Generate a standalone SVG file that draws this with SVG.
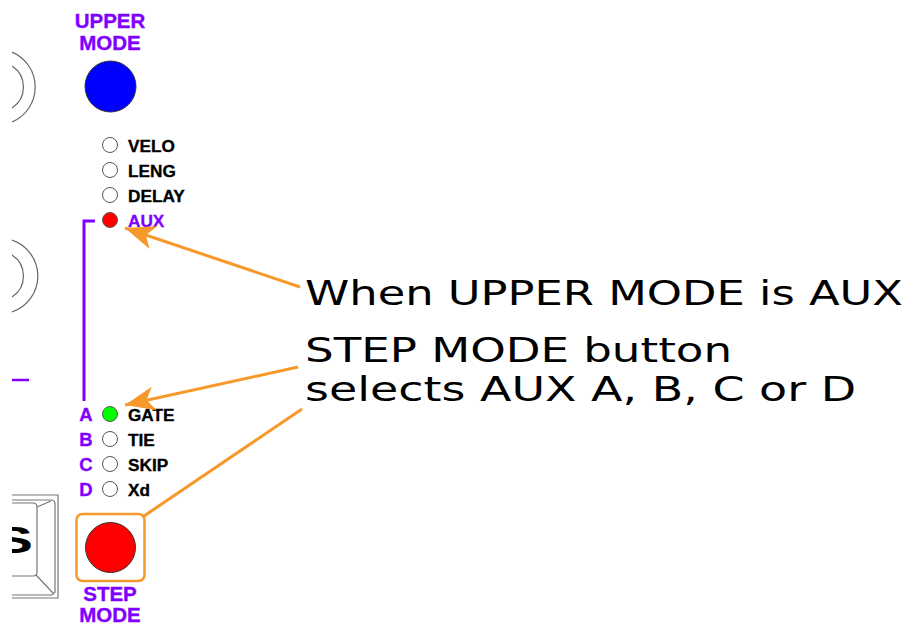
<svg xmlns="http://www.w3.org/2000/svg" width="908" height="625" viewBox="0 0 908 625">
  <style>
    .lbl { font-family: "Liberation Sans", Arial, sans-serif; font-weight: bold; font-size: 17.2px; fill: #000; stroke: #000; stroke-width: 0.35px; }
    .plbl { font-family: "Liberation Sans", Arial, sans-serif; font-weight: bold; fill: #8000FF; stroke: #8000FF; stroke-width: 0.35px; }
    .big { font-family: "DejaVu Sans", "Liberation Sans", sans-serif; font-size: 33px; fill: #000; }
    .led { stroke: #555; stroke-width: 1; }
    .arc { fill: none; stroke: #666; stroke-width: 1.2; }
    .conn { fill: none; stroke: #F7982A; stroke-width: 3; }
    .key { fill: none; stroke: #777; stroke-width: 1.2; }
  </style>
  <defs>
    <marker id="ah" markerUnits="userSpaceOnUse" markerWidth="32" markerHeight="28" viewBox="0 -14 32 28" refX="30" refY="0" orient="auto">
      <path d="M30,0 L0,-12 L8,0 L0,12 Z" fill="#F7982A"/>
    </marker>
    <clipPath id="leftclip"><rect x="12" y="0" width="900" height="625"/></clipPath>
  </defs>
  <rect width="908" height="625" fill="#fff"/>

  <g id="panel-left" clip-path="url(#leftclip)">
    <path class="arc" d="M12,52 A38,38 0 0 1 12,122"/>
    <path class="arc" d="M12,66 A25,25 0 0 1 12,108"/>
    <path class="arc" d="M12,240 A38,38 0 0 1 12,312"/>
    <path class="arc" d="M12,255 A25,25 0 0 1 12,297"/>
    <line x1="12" y1="380" x2="29" y2="380" stroke="#8000FF" stroke-width="2.5"/>
    <g id="key">
      <path class="key" d="M12,495 H58 V598 H12"/>
      <path class="key" d="M12,500 H51 Q55,500 55,504 V592 L52,595 H12"/>
      <path class="key" d="M12,503 H33 Q37,503 37,507 V572 Q37,576 33,576 H12"/>
      <path class="key" d="M37,507 L51,501"/>
      <path class="key" d="M36,575 L53,593"/>
      <text transform="translate(33,553) scale(1.6,1)" text-anchor="end" style="font-family:'Liberation Sans',Arial,sans-serif;font-weight:bold;font-size:37px;fill:#000">S</text>
    </g>
  </g>

  <g id="upper-mode">
    <text class="plbl" x="110" y="28" text-anchor="middle" font-size="20.5">UPPER</text>
    <text class="plbl" x="110" y="50" text-anchor="middle" font-size="20.5">MODE</text>
    <circle cx="110.5" cy="86.5" r="25.5" fill="#0000FF" stroke="#333" stroke-width="1"/>
  </g>

  <g id="upper-leds">
    <circle class="led" cx="110" cy="145" r="7.5" fill="#fff"/>
    <text class="lbl" x="128" y="152">VELO</text>
    <circle class="led" cx="110" cy="170" r="7.5" fill="#fff"/>
    <text class="lbl" x="128" y="177">LENG</text>
    <circle class="led" cx="110" cy="195" r="7.5" fill="#fff"/>
    <text class="lbl" x="128" y="202">DELAY</text>
  </g>
  <g id="aux-led">
    <circle class="led" cx="110" cy="220" r="7.5" fill="#FF0000"/>
    <text class="plbl" x="128" y="227" font-size="17.2">AUX</text>
  </g>

  <g id="bracket">
    <path d="M95,221 H84 V401" fill="none" stroke="#8000FF" stroke-width="3"/>
  </g>

  <g id="step-leds">
    <text class="plbl" x="86" y="421" text-anchor="middle" font-size="18.5">A</text>
    <circle class="led" cx="110" cy="414" r="7.5" fill="#00FF00"/>
    <text class="lbl" x="128" y="421">GATE</text>
    <text class="plbl" x="86" y="446" text-anchor="middle" font-size="18.5">B</text>
    <circle class="led" cx="110" cy="439" r="7.5" fill="#fff"/>
    <text class="lbl" x="128" y="446">TIE</text>
    <text class="plbl" x="86" y="471" text-anchor="middle" font-size="18.5">C</text>
    <circle class="led" cx="110" cy="464" r="7.5" fill="#fff"/>
    <text class="lbl" x="128" y="471">SKIP</text>
    <text class="plbl" x="86" y="496" text-anchor="middle" font-size="18.5">D</text>
    <circle class="led" cx="110" cy="489" r="7.5" fill="#fff"/>
    <text class="lbl" x="128" y="496">Xd</text>
  </g>

  <g id="step-mode">
    <rect x="76.5" y="514" width="68" height="67" rx="6" fill="none" stroke="#F7982A" stroke-width="2.5"/>
    <circle cx="110.5" cy="547.5" r="25" fill="#FF0000" stroke="#333" stroke-width="1"/>
    <text class="plbl" x="110" y="601" text-anchor="middle" font-size="20.5">STEP</text>
    <text class="plbl" x="110" y="622" text-anchor="middle" font-size="20.5">MODE</text>
  </g>

  <g id="notes">
    <text class="big" x="305" y="305" textLength="598" lengthAdjust="spacingAndGlyphs">When UPPER MODE is AUX</text>
    <text class="big" x="305" y="362" textLength="427" lengthAdjust="spacingAndGlyphs">STEP MODE button</text>
    <text class="big" x="305" y="401" textLength="551" lengthAdjust="spacingAndGlyphs">selects AUX A, B, C or D</text>
  </g>

  <g id="connectors">
    <line class="conn" x1="300" y1="287" x2="125" y2="228" marker-end="url(#ah)"/>
    <line class="conn" x1="298" y1="367" x2="125" y2="405" marker-end="url(#ah)"/>
    <line class="conn" x1="302" y1="409" x2="144" y2="516" stroke-width="2.2"/>
  </g>
</svg>
